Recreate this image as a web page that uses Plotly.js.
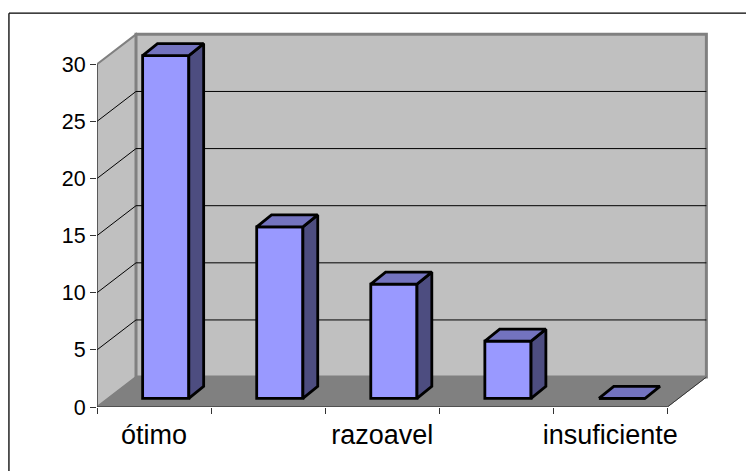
<!DOCTYPE html>
<html>
<head>
<meta charset="utf-8">
<script src="https://cdn.plot.ly/plotly-3.0.1.min.js"></script>
<style>html,body{margin:0;padding:0;background:#fff;overflow:hidden}</style>
</head>
<body>
<div id="chart" style="width:746px;height:471px"></div>
<script>
const categories = ["ótimo", "", "razoavel", "", "insuficiente"];
const values = [30, 15, 10, 5, 0];
const yTicks = [0, 5, 10, 15, 20, 25, 30];
const slotEdges = [0, 1, 2, 3, 4, 5];

// oblique projection in axis units
const wallDx = 0.342, wallDy = 2.62;
const barInset = 0.4, barWidth = 0.405, barBase = 0.76, barDx = 0.13, barDy = 1.05;
const n = categories.length, yMax = yTicks[yTicks.length - 1];
const xRange = [0, 5.4], yRange = [0, 33];
const centers = categories.map((_, i) => i + 0.5);
const wallGray = "#808080";
const edge = 2.8;

function poly(xs, ys, fill, color, width) {
  return {type: "scatter", mode: "lines", x: xs.concat(xs[0]), y: ys.concat(ys[0]), fill: "toself",
    fillcolor: fill, line: {color: color, width: width}, hoverinfo: "skip", showlegend: false};
}
function seg(xs, ys, color, width) {
  return {type: "scatter", mode: "lines", x: xs, y: ys, line: {color: color, width: width},
    hoverinfo: "skip", showlegend: false, cliponaxis: false};
}
function pathOf(xs, ys) {
  return "M" + xs.map((x, i) => x + "," + ys[i]).join("L") + "Z";
}

const traces = [];
traces.push({type: "bar", x: values.map((_, i) => i + barInset + barWidth / 2), y: values, base: barBase, width: barWidth,
  marker: {color: "#9999FF", line: {color: "#000", width: edge}}, hoverinfo: "skip", showlegend: false});
values.forEach((v, i) => {
  const x0 = i + barInset, x1 = x0 + barWidth, b = barBase, t = b + v;
  if (v > 0) traces.push(poly([x1, x1 + barDx, x1 + barDx, x1], [b, b + barDy, t + barDy, t], "#4D4D80", "#000", edge));
  traces.push(poly([x0, x1, x1 + barDx, x0 + barDx], [t, t, t + barDy, t + barDy], "#7373BF", "#000", edge));
});
traces.push(seg([0, 0], [0, yMax], "#333", 1));
traces.push(seg([0, n], [0, 0], "#222", 1));
traces.push(seg([n, n + wallDx], [0, wallDy], "#333", 1));
// carrier for the category label axis
traces.push({type: "scatter", mode: "markers", x: centers, y: values, xaxis: "x2", marker: {opacity: 0, size: 1},
  hoverinfo: "skip", showlegend: false});

const shapes = [
  {type: "path", layer: "below", path: pathOf([0, wallDx, wallDx, 0], [0, wallDy, yMax + wallDy, yMax]),
    fillcolor: "#C0C0C0", line: {color: wallGray, width: 2}},
  {type: "path", layer: "below", path: pathOf([wallDx, n + wallDx, n + wallDx, wallDx], [wallDy, wallDy, yMax + wallDy, yMax + wallDy]),
    fillcolor: "#C0C0C0", line: {color: wallGray, width: 3}},
  {type: "path", layer: "below", path: pathOf([0, n, n + wallDx, wallDx], [0, 0, wallDy, wallDy]),
    fillcolor: wallGray, line: {color: wallGray, width: 1}}
];
yTicks.filter(v => v > 0 && v < yMax).forEach(v => {
  shapes.push({type: "line", layer: "below", x0: 0, y0: v, x1: wallDx, y1: v + wallDy, line: {color: "#000", width: 1}});
  shapes.push({type: "line", layer: "below", x0: wallDx, y0: v + wallDy, x1: n + wallDx, y1: v + wallDy, line: {color: "#000", width: 1}});
});

// outer chart frame: only its top and left edges fall inside the picture
const W = 746, H = 471, L = 97, R = 33.4, T = 29.8, B = 64;
const px = p => (p - L) / (W - L - R), py = p => (H - B - p) / (H - B - T);
shapes.push({type: "line", xref: "paper", yref: "paper", x0: px(9), y0: py(13), x1: px(W), y1: py(13), line: {color: "#000", width: 1.3}});
shapes.push({type: "line", xref: "paper", yref: "paper", x0: px(9), y0: py(13), x1: px(9), y1: py(H), line: {color: "#000", width: 1.3}});

const layout = {
  width: W, height: H, margin: {l: L, r: R, t: T, b: B, pad: 0},
  paper_bgcolor: "#fff", plot_bgcolor: "rgba(0,0,0,0)", showlegend: false, barmode: "overlay",
  font: {family: "'Liberation Sans', Arial, sans-serif", color: "#000"},
  xaxis: {range: xRange, tickmode: "array", tickvals: slotEdges, ticktext: slotEdges.map(() => ""),
    ticks: "outside", ticklen: 6, tickwidth: 1, tickcolor: "#333", showgrid: false, zeroline: false, showline: false},
  xaxis2: {overlaying: "x", anchor: "y", side: "bottom", range: xRange, tickmode: "array", tickvals: centers, ticktext: categories,
    ticks: "", ticklabelstandoff: 9, showgrid: false, zeroline: false, showline: false, tickangle: 0, tickfont: {size: 27}},
  yaxis: {range: yRange, tickmode: "array", tickvals: yTicks, ticktext: yTicks.map(String),
    ticks: "outside", ticklen: 6, tickwidth: 1, tickcolor: "#333", showgrid: false, zeroline: false, showline: false, tickfont: {size: 21.5}},
  shapes: shapes
};
Plotly.newPlot("chart", traces, layout, {displayModeBar: false, staticPlot: true});
</script>
</body>
</html>
